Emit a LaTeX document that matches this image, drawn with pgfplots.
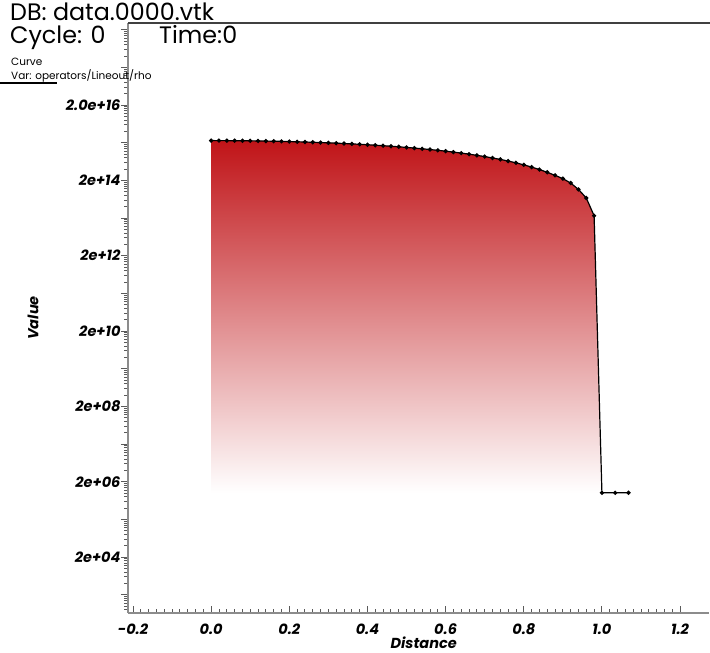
\documentclass[border=0pt]{standalone}
\usepackage{fontspec}
\setmainfont{Poppins}
\usepackage{pgfplots}
\usepackage{pgfplotstable}
\pgfplotsset{compat=1.18}
\definecolor{fillred}{RGB}{192,20,24}
\definecolor{axgray}{RGB}{140,140,140}
\definecolor{tickgray}{RGB}{90,90,90}

\pgfplotstableread{
x y
0.00 2.270e15
0.02 2.269e15
0.04 2.265e15
0.06 2.258e15
0.08 2.249e15
0.10 2.237e15
0.12 2.223e15
0.14 2.206e15
0.16 2.186e15
0.18 2.164e15
0.20 2.140e15
0.22 2.112e15
0.24 2.083e15
0.26 2.051e15
0.28 2.017e15
0.30 1.980e15
0.32 1.941e15
0.34 1.900e15
0.36 1.856e15
0.38 1.811e15
0.40 1.763e15
0.42 1.713e15
0.44 1.662e15
0.46 1.608e15
0.48 1.553e15
0.50 1.496e15
0.52 1.437e15
0.54 1.377e15
0.56 1.315e15
0.58 1.253e15
0.60 1.189e15
0.62 1.123e15
0.64 1.057e15
0.66 9.905e14
0.68 9.230e14
0.70 8.550e14
0.72 7.869e14
0.74 7.187e14
0.76 6.506e14
0.78 5.830e14
0.80 5.161e14
0.82 4.501e14
0.84 3.880e14
0.86 3.270e14
0.88 2.720e14
0.90 2.220e14
0.92 1.700e14
0.94 1.150e14
0.96 6.800e13
0.98 2.300e13
1.000 1.02e6
1.034 1.02e6
1.068 1.02e6
}\curvedata

\pgfplotstableread{
x y
0.00 2.270e15
0.02 2.269e15
0.04 2.265e15
0.06 2.258e15
0.08 2.249e15
0.10 2.237e15
0.12 2.223e15
0.14 2.206e15
0.16 2.186e15
0.18 2.164e15
0.20 2.140e15
0.22 2.112e15
0.24 2.083e15
0.26 2.051e15
0.28 2.017e15
0.30 1.980e15
0.32 1.941e15
0.34 1.900e15
0.36 1.856e15
0.38 1.811e15
0.40 1.763e15
0.42 1.713e15
0.44 1.662e15
0.46 1.608e15
0.48 1.553e15
0.50 1.496e15
0.52 1.437e15
0.54 1.377e15
0.56 1.315e15
0.58 1.253e15
0.60 1.189e15
0.62 1.123e15
0.64 1.057e15
0.66 9.905e14
0.68 9.230e14
0.70 8.550e14
0.72 7.869e14
0.74 7.187e14
0.76 6.506e14
0.78 5.830e14
0.80 5.161e14
0.82 4.501e14
0.84 3.880e14
0.86 3.270e14
0.88 2.720e14
0.90 2.220e14
0.92 1.700e14
0.94 1.150e14
0.96 6.800e13
0.98 2.300e13
1.000 1.02e6
0.00 1.02e6
}\filldata

\def\myminor{}
\foreach \e in {2,...,18}{\foreach \k in {4,6,8,10,12,14,16,18}{\xdef\myminor{\myminor\k e\e,}}}
\xdef\myminor{\myminor 4e19}

\begin{document}
\begin{tikzpicture}
\useasboundingbox (0pt,0pt) rectangle (710pt,653pt);
\begin{axis}[
  at={(128pt,40pt)}, anchor=south west,
  scale only axis, width=581pt, height=590pt,
  ymode=log,
  xmin=-0.2128, xmax=1.274, ymin=660, ymax=3.0e18,
  axis x line*=bottom, axis y line*=left,
  axis line style={axgray, line width=1.5pt, -},
  xtick={-0.2,0,0.2,0.4,0.6,0.8,1.0,1.2},
  xticklabels={-0.2,0.0,0.2,0.4,0.6,0.8,1.0,1.2},
  minor x tick num=9,
  ytick={2e3,2e4,2e5,2e6,2e7,2e8,2e9,2e10,2e11,2e12,2e13,2e14,2e15,2e16,2e17,2e18},
  yticklabels={{},2e+04,{},2e+06,{},2e+08,{},2e+10,{},2e+12,{},2e+14,{},2.0e+16,{},{}},
  minor ytick/.expanded={\myminor},
  tick align=inside,
  major tick length=7pt, minor tick length=3.5pt,
  tick style={tickgray, line width=0.9pt},
  major y tick style={xshift=-7pt},
  minor y tick style={xshift=-3.5pt},
  tick label style={font=\bfseries\itshape\fontsize{14.5}{16}\selectfont},
  yticklabel style={xshift=-4pt},
  xticklabel style={yshift=-7pt},
  xlabel={Distance}, ylabel={Value},
  every axis x label/.style={at={(axis description cs:0.509,0)}, anchor=center, yshift=-30pt, font=\bfseries\itshape\fontsize{14.5}{16}\selectfont},
  every axis y label/.style={at={(axis description cs:-0.1635,0.5)}, anchor=center, rotate=90, font=\bfseries\itshape\fontsize{14.5}{16}\selectfont},
  clip=true,
]
\addplot[draw=none, top color=fillred, bottom color=white, forget plot] table {\filldata};
\addplot[black, line width=1.2pt, mark=*, mark size=1.5pt, mark options={fill=black}] table {\curvedata};
\end{axis}
\draw[black!75, line width=1.5pt] (128pt,630pt) -- (710pt,630pt);
\node[anchor=base west, inner sep=0, font=\fontsize{23.8}{26}\selectfont] at (10pt,632pt) {DB: data.0000.vtk};
\node[anchor=base west, inner sep=0, font=\fontsize{23.8}{26}\selectfont] at (10pt,609pt) {Cycle: 0};
\node[anchor=base west, inner sep=0, font=\fontsize{23.8}{26}\selectfont] at (159pt,609pt) {Time:0};
\node[anchor=base west, inner sep=0, font=\fontsize{10.5}{12}\selectfont] at (11pt,587pt) {Curve};
\node[anchor=base west, inner sep=0, font=\fontsize{10.5}{12}\selectfont] at (11pt,573pt) {Var: operators/Lineout/rho};
\draw[black, line width=1.5pt] (0pt,570pt) -- (57pt,570pt);
\end{tikzpicture}
\end{document}
